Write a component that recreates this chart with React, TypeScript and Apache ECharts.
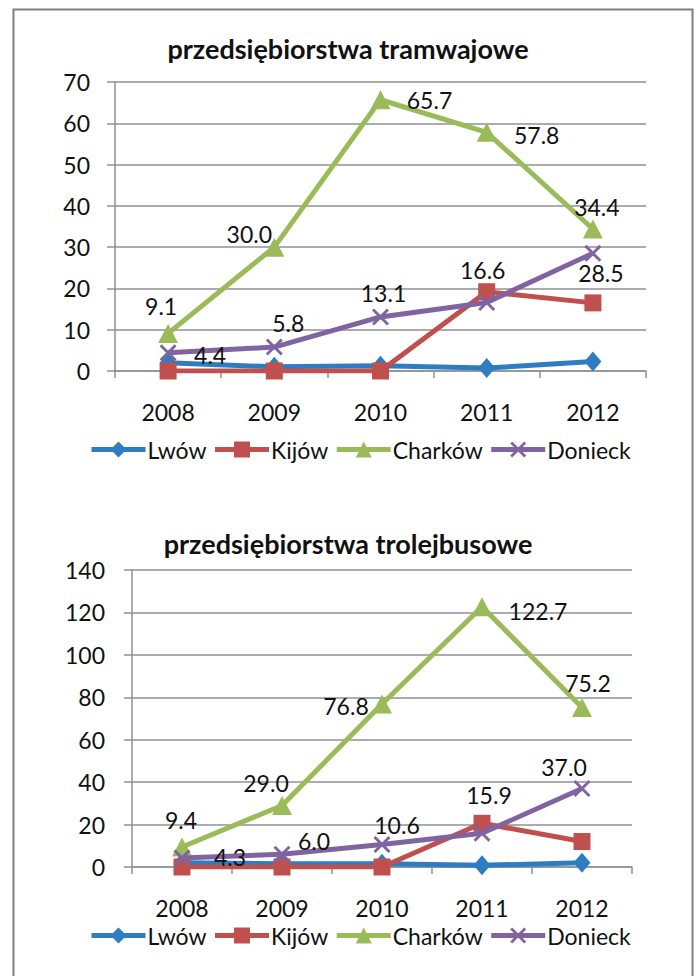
import React, { useEffect, useRef } from "react";
import * as echarts from "echarts";

// ---- data ----
const categories = ["2008", "2009", "2010", "2011", "2012"];
const seriesNames = ["Lwów", "Kijów", "Charków", "Donieck"];

const tramTitle = "przedsiębiorstwa tramwajowe";
const tramLwow = [2.0, 1.0, 1.3, 0.7, 2.3];
const tramKijow = [0, 0, 0, 19.2, 16.5];
const tramCharkow = [9.1, 30.0, 65.7, 57.8, 34.4];
const tramDonieck = [4.4, 5.8, 13.1, 16.6, 28.5];
const tramAxisMax = 70;
const tramAxisStep = 10;

const trolTitle = "przedsiębiorstwa trolejbusowe";
const trolLwow = [2.0, 1.5, 1.5, 0.8, 2.0];
const trolKijow = [0, 0, 0, 20.6, 12.0];
const trolCharkow = [9.4, 29.0, 76.8, 122.7, 75.2];
const trolDonieck = [4.3, 6.0, 10.6, 15.9, 37.0];
const trolAxisMax = 140;
const trolAxisStep = 20;

// ---- styles ----
const FONT = "Lato";
const COLORS = ["#2E7DC2", "#C0504D", "#9BBB59", "#8064A2"];
const GRAY = "#8e9196";
const CROSS =
  "path://M0,1.2L1.2,0L5,3.8L8.8,0L10,1.2L6.2,5L10,8.8L8.8,10L5,6.2L1.2,10L0,8.8L3.8,5Z";
const SYMBOLS = ["diamond", "rect", "triangle", CROSS];
const SYMBOL_SIZES: any[] = [[17, 20], 17, [20, 19], 17];

// label centre offsets relative to the marker (style only)
const tramCharkowLabelOffsets = [[-7, -27], [-25, -13], [49, 0], [50, 3], [4, -22]];
const tramDonieckLabelOffsets = [[42, 2], [14, -24], [3, -24], [-4, -32], [8, 20]];
const trolCharkowLabelOffsets = [[-1, -27], [-16, -22], [-36, 2], [56, 4], [6, -24]];
const trolDonieckLabelOffsets = [[48, -1], [32, -13], [15, -20], [7, -38], [-18, -22]];

function makeSeries(
  idx: number,
  gridIdx: number,
  values: number[],
  offsets: number[][] | null
) {
  return {
    type: "line",
    name: seriesNames[idx],
    xAxisIndex: gridIdx,
    yAxisIndex: gridIdx,
    symbol: SYMBOLS[idx],
    symbolSize: SYMBOL_SIZES[idx],
    lineStyle: { color: COLORS[idx], width: 5 },
    itemStyle: { color: COLORS[idx] },
    z: 2 + idx,
    data: values.map((v, i) =>
      offsets
        ? {
            value: v,
            label: { show: true, offset: offsets[i] },
          }
        : v
    ),
    label: {
      show: !!offsets,
      position: "inside",
      formatter: (p: any) => Number(p.value).toFixed(1),
      fontFamily: FONT,
      fontSize: 23,
      color: "#111",
    },
    emphasis: { disabled: true },
  };
}

function axisPair(gridIdx: number, max: number, step: number) {
  const x = {
    type: "category",
    gridIndex: gridIdx,
    data: categories,
    boundaryGap: true,
    axisLine: { show: true, lineStyle: { color: GRAY, width: 1.5 } },
    axisTick: { show: true, length: 7, interval: 0, lineStyle: { color: GRAY, width: 1.5 } },
    axisLabel: {
      fontFamily: FONT,
      fontSize: 23,
      color: "#111",
      margin: 29,
      interval: 0,
    },
  };
  const y = {
    type: "value",
    gridIndex: gridIdx,
    min: 0,
    max,
    interval: step,
    axisLine: { show: true, lineStyle: { color: GRAY, width: 1.5 } },
    axisTick: { show: true, length: 8, lineStyle: { color: GRAY, width: 1.5 } },
    splitLine: { show: true, lineStyle: { color: GRAY, width: 1.5 } },
    axisLabel: {
      fontFamily: FONT,
      fontSize: 23,
      color: "#111",
      margin: gridIdx === 0 ? 25 : 27,
    },
  };
  return { x, y };
}

export default function App() {
  const ref = useRef<HTMLDivElement>(null);

  useEffect(() => {
    if (!ref.current) return;
    const chart = echarts.init(ref.current, undefined, { renderer: "svg" });
    const a0 = axisPair(0, tramAxisMax, tramAxisStep);
    const a1 = axisPair(1, trolAxisMax, trolAxisStep);
    const legendCommon = {
      data: seriesNames,
      itemWidth: 54,
      itemHeight: 20,
      itemGap: 6,
      left: 89,
      padding: 0,
      lineStyle: { width: 5 },
      textStyle: { fontFamily: FONT, fontSize: 23, color: "#111", padding: [0, 0, 0, -3] },
      selectedMode: false,
    };
    const titleStyle = { fontFamily: FONT, fontSize: 27, fontWeight: "bold", color: "#111" };
    const option: any = {
      animation: false,
      backgroundColor: "#ffffff",
      graphic: [
        {
          type: "rect",
          shape: { x: 13.5, y: 9.5, width: 679, height: 1000 },
          style: { fill: "none", stroke: "#7f7f7f", lineWidth: 2 },
          silent: true,
        },
      ],
      title: [
        { text: tramTitle, left: "center", top: 35, padding: 0, textStyle: titleStyle },
        { text: trolTitle, left: "center", top: 530, padding: 0, textStyle: titleStyle },
      ],
      legend: [
        { ...legendCommon, top: 438 },
        { ...legendCommon, top: 924 },
      ],
      grid: [
        { left: 115, top: 82, width: 531, height: 289 },
        { left: 132, top: 570, width: 500, height: 297 },
      ],
      xAxis: [a0.x, a1.x],
      yAxis: [a0.y, a1.y],
      series: [
        makeSeries(0, 0, tramLwow, null),
        makeSeries(1, 0, tramKijow, null),
        makeSeries(2, 0, tramCharkow, tramCharkowLabelOffsets),
        makeSeries(3, 0, tramDonieck, tramDonieckLabelOffsets),
        makeSeries(0, 1, trolLwow, null),
        makeSeries(1, 1, trolKijow, null),
        makeSeries(2, 1, trolCharkow, trolCharkowLabelOffsets),
        makeSeries(3, 1, trolDonieck, trolDonieckLabelOffsets),
      ],
    };
    chart.setOption(option);
    return () => chart.dispose();
  }, []);

  return (
    <div
      ref={ref}
      style={{ position: "fixed", left: 0, top: 0, width: 696, height: 976 }}
    />
  );
}
